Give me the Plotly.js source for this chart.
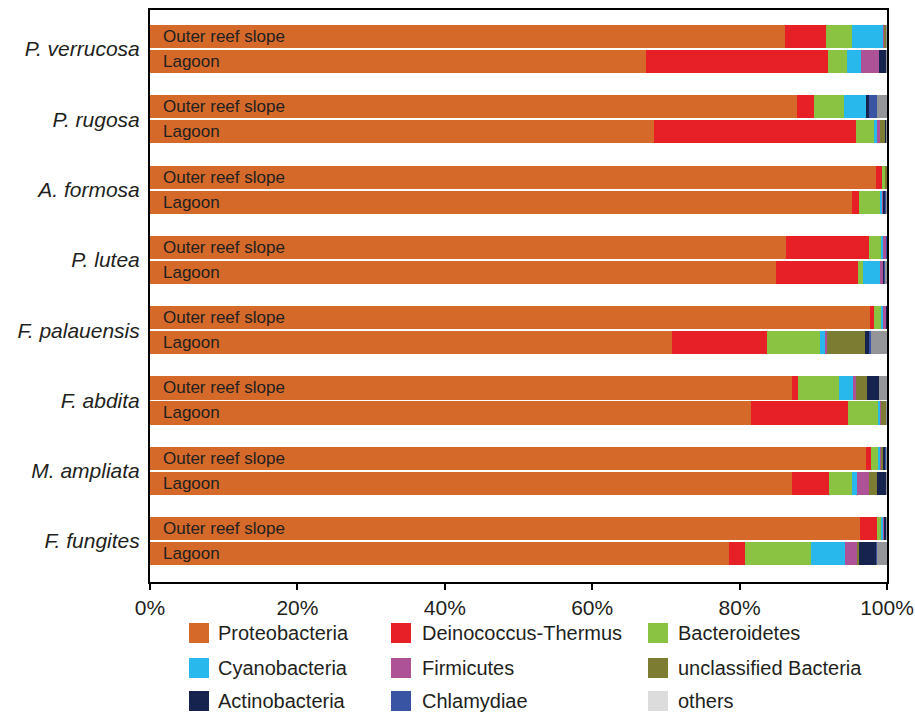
<!DOCTYPE html>
<html>
<head>
<meta charset="utf-8">
<script src="https://cdn.plot.ly/plotly-3.0.1.min.js"></script>
<style>
  html, body { margin: 0; padding: 0; background: #ffffff; }
  #chart { width: 915px; height: 713px; }
</style>
</head>
<body>
<div id="chart"></div>
<script>
// Coral species (top to bottom) and the two habitats sampled for each
const species = ["P. verrucosa", "P. rugosa", "A. formosa", "P. lutea",
                 "F. palauensis", "F. abdita", "M. ampliata", "F. fungites"];
const habitats = ["Outer reef slope", "Lagoon"];

// Relative abundance (%) per bar, order: for each species Outer reef slope then Lagoon
const proteobacteria     = [86.2, 67.3, 87.8, 68.4, 98.5, 95.2, 86.3, 84.9, 97.7, 70.8, 87.1, 81.5, 97.2, 87.1, 96.3, 78.6];
const deinococcusThermus = [ 5.5, 24.7,  2.3, 27.4,  0.8,  1.0, 11.3, 11.2,  0.5, 12.9,  0.8, 13.2,  0.6,  5.0,  2.3,  2.1];
const bacteroidetes      = [ 3.5,  2.6,  4.0,  2.4,  0.4,  2.8,  1.6,  0.7,  1.0,  7.2,  5.6,  4.1,  1.0,  3.1,  0.6,  9.0];
const cyanobacteria      = [ 4.3,  1.9,  3.0,  0.4,  0.0,  0.3,  0.3,  2.3,  0.3,  0.7,  1.9,  0.3,  0.2,  0.7,  0.2,  4.6];
const firmicutes         = [ 0.1,  2.4,  0.1,  0.4,  0.0,  0.2,  0.3,  0.3,  0.3,  0.3,  0.4,  0.1,  0.2,  1.7,  0.2,  1.6];
const unclassified       = [ 0.2,  0.0,  0.0,  0.7,  0.3,  0.0,  0.0,  0.0,  0.0,  5.1,  1.5,  0.6,  0.2,  1.0,  0.0,  0.3];
const actinobacteria     = [ 0.1,  0.9,  0.4,  0.1,  0.0,  0.2,  0.1,  0.2,  0.2,  0.6,  1.6,  0.1,  0.3,  1.3,  0.3,  2.3];
const chlamydiae         = [ 0.0,  0.0,  1.0,  0.0,  0.0,  0.1,  0.1,  0.1,  0.0,  0.2,  0.0,  0.0,  0.1,  0.0,  0.0,  0.1];
const others             = [ 0.1,  0.2,  1.4,  0.2,  0.0,  0.2,  0.0,  0.3,  0.0,  2.2,  1.1,  0.1,  0.2,  0.1,  0.1,  1.4];

// Axis ticks
const xTickVals = [0, 20, 40, 60, 80, 100];
const xTickText = ["0%", "20%", "40%", "60%", "80%", "100%"];

const phylumNames = ["Proteobacteria", "Deinococcus-Thermus", "Bacteroidetes",
                     "Cyanobacteria", "Firmicutes", "unclassified Bacteria",
                     "Actinobacteria", "Chlamydiae", "others"];
const phylumValues = [proteobacteria, deinococcusThermus, bacteroidetes,
                      cyanobacteria, firmicutes, unclassified,
                      actinobacteria, chlamydiae, others];
const barColors    = ["#d4692a", "#e71f26", "#89c341", "#28b8eb", "#ad5296",
                      "#7c7d33", "#17234f", "#3a54a4", "#939598"];
const swatchColors = ["#d4692a", "#e71f26", "#89c341", "#28b8eb", "#ad5296",
                      "#7c7d33", "#17234f", "#3a54a4", "#dcdcdc"];

const FONT = '"Liberation Sans", Arial, Helvetica, sans-serif';
const INK = "#231f20";

// Bar centres: species index on the y axis, habitats offset either side of it
const PAIR_OFFSET = 0.178;
const BAR_WIDTH = 0.33;
const yPos = [];
const barLabels = [];
species.forEach((s, i) => {
  habitats.forEach((h, j) => {
    yPos.push(i + (j === 0 ? -PAIR_OFFSET : PAIR_OFFSET));
    barLabels.push(h);
  });
});

const traces = phylumNames.map((name, k) => ({
  type: "bar",
  orientation: "h",
  name: name,
  x: phylumValues[k],
  y: yPos,
  width: yPos.map(() => BAR_WIDTH),
  marker: { color: barColors[k], line: { width: 0 } },
  hoverinfo: "name+x",
  showlegend: false
}));

// Habitat names written inside the left end of each bar
const annotations = barLabels.map((t, i) => ({
  x: 0, y: yPos[i], xref: "x", yref: "y",
  xanchor: "left", yanchor: "middle", xshift: 11,
  text: t, showarrow: false,
  font: { family: FONT, size: 17, color: INK }
}));

// Legend: three columns by three rows of square swatches
const M = { l: 150, r: 28, t: 10, b: 131 };
const PW = 915 - M.l - M.r, PH = 713 - M.t - M.b;
const px2x = px => (px - M.l) / PW;
const py2y = py => (713 - M.b - py) / PH;
const swatchLeft = [189, 391, 648];
const textLeft = [216, 420, 676];
const rowMid = [633, 668, 701];
const SW = 20;
const shapes = [];
phylumNames.forEach((name, k) => {
  const c = k % 3, r = Math.floor(k / 3);
  shapes.push({
    type: "rect", xref: "paper", yref: "paper",
    x0: px2x(swatchLeft[c]), x1: px2x(swatchLeft[c] + SW),
    y0: py2y(rowMid[r] + SW / 2), y1: py2y(rowMid[r] - SW / 2),
    fillcolor: swatchColors[k], line: { width: 0 }
  });
  annotations.push({
    x: px2x(textLeft[c]), y: py2y(rowMid[r]), xref: "paper", yref: "paper",
    xanchor: "left", yanchor: "middle", text: name, showarrow: false,
    font: { family: FONT, size: 20, color: INK }
  });
});

const layout = {
  width: 915, height: 713,
  margin: M,
  paper_bgcolor: "#ffffff", plot_bgcolor: "#ffffff",
  barmode: "stack",
  bargap: 0,
  showlegend: false,
  font: { family: FONT, color: INK },
  xaxis: {
    range: [0, 100],
    tickmode: "array",
    tickvals: xTickVals,
    ticktext: xTickText,
    ticks: "outside", ticklen: 6, tickwidth: 2, tickcolor: "#000000",
    showline: true, mirror: true, linecolor: "#000000", linewidth: 2,
    showgrid: false, zeroline: false,
    tickfont: { family: FONT, size: 21, color: INK }
  },
  yaxis: {
    range: [7.584, -0.556],
    tickmode: "array",
    tickvals: species.map((s, i) => i),
    ticktext: species.map(s => "<i>" + s + "</i>"),
    ticks: "", ticklabelstandoff: 4,
    showline: true, mirror: true, linecolor: "#000000", linewidth: 2,
    showgrid: false, zeroline: false,
    tickfont: { family: FONT, size: 21, color: INK }
  },
  shapes: shapes,
  annotations: annotations
};

Plotly.newPlot("chart", traces, layout, { displayModeBar: false, staticPlot: true });
</script>
</body>
</html>
